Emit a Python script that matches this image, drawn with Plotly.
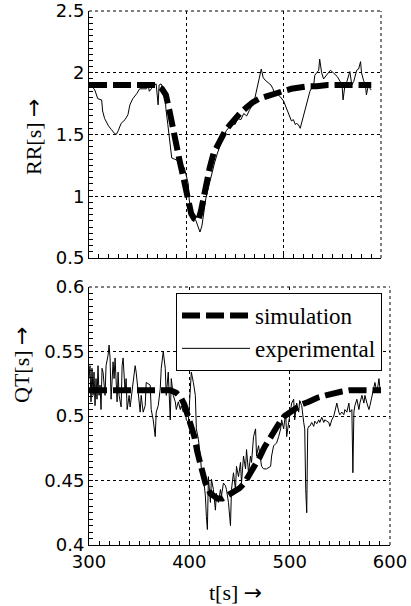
import plotly.graph_objects as go

# ---------------- data ----------------
t_rr_sim = [300, 310, 320, 330, 340, 350, 360, 369, 375, 379, 383, 386, 390, 393, 397, 400, 403, 405, 408, 412,
            415, 417, 420, 424, 428, 434, 440, 445, 450, 455, 462, 468, 475, 482, 490, 499, 508, 516, 525, 534,
            545, 560, 575, 590]
rr_sim = [1.90, 1.90, 1.90, 1.90, 1.90, 1.90, 1.90, 1.90, 1.87, 1.82, 1.68, 1.55, 1.40, 1.29, 1.15, 1.02, 0.92, 0.86, 0.82, 0.80,
          0.88, 0.97, 1.08, 1.23, 1.35, 1.45, 1.53, 1.58, 1.63, 1.67, 1.72, 1.76, 1.79, 1.81, 1.83, 1.85, 1.87, 1.88, 1.89, 1.89,
          1.90, 1.90, 1.90, 1.90]

t_rr_exp = [300, 302, 306, 309, 313, 314, 316, 320, 323, 326, 328, 330, 333, 337, 340, 342, 345, 349, 352, 355,
            359, 361, 362, 364, 367, 369, 371, 372, 374, 378, 379, 381, 383, 385, 388, 391, 395, 398, 402, 403,
            405, 407, 410, 412, 414, 416, 418, 420, 423, 426, 429, 432, 435, 438, 441, 444, 447, 450, 453, 456,
            459, 462, 465, 468, 470, 472, 474, 475, 477, 479, 481, 484, 487, 489, 491, 493, 496, 500, 503, 505,
            507, 508, 510, 512, 513, 515, 517, 519, 520, 522, 524, 527, 531, 532, 534, 536, 537, 539, 541, 544,
            548, 551, 555, 558, 560, 561, 563, 565, 567, 568, 570, 572, 575, 577, 579, 580, 582, 584, 585, 587,
            589, 590]
rr_exp = [1.91, 1.90, 1.86, 1.79, 1.78, 1.69, 1.63, 1.57, 1.54, 1.51, 1.50, 1.53, 1.59, 1.62, 1.66, 1.74, 1.79, 1.83, 1.87, 1.87,
          1.87, 1.89, 1.85, 1.87, 1.90, 1.91, 1.74, 1.90, 1.91, 1.85, 1.71, 1.58, 1.42, 1.31, 1.30, 1.29, 1.26, 1.23, 1.10, 0.97,
          0.86, 0.83, 0.80, 0.76, 0.71, 0.76, 0.88, 0.98, 1.08, 1.18, 1.27, 1.35, 1.42, 1.48, 1.53, 1.56, 1.60, 1.58, 1.63, 1.62,
          1.67, 1.65, 1.70, 1.74, 1.78, 1.85, 1.93, 1.98, 2.03, 1.96, 1.94, 1.92, 1.90, 1.87, 1.82, 1.83, 1.81, 1.77, 1.71, 1.67,
          1.63, 1.61, 1.62, 1.58, 1.59, 1.58, 1.55, 1.61, 1.66, 1.71, 1.77, 1.85, 1.91, 1.98, 2.00, 2.02, 2.11, 2.00, 1.95, 1.98,
          2.02, 2.00, 1.97, 1.93, 1.90, 1.78, 1.90, 1.93, 2.00, 2.01, 1.90, 1.93, 2.02, 2.03, 2.09, 2.00, 1.94, 1.90, 1.82, 1.90,
          1.87, 1.86]

t_qt_sim = [300, 320, 340, 360, 381, 387, 391, 395, 398, 402, 405, 408, 411, 416, 421, 428, 433, 438, 445, 450,
            455, 460, 465, 470, 475, 480, 485, 490, 495, 500, 505, 512, 519, 527, 536, 544, 552, 560, 569, 580, 591]
qt_sim = [0.520, 0.520, 0.520, 0.520, 0.520, 0.518, 0.515, 0.509, 0.502, 0.493, 0.484, 0.472, 0.461, 0.448, 0.440, 0.436, 0.436, 0.438, 0.441, 0.444,
          0.448, 0.454, 0.461, 0.468, 0.476, 0.483, 0.489, 0.495, 0.500, 0.503, 0.506, 0.509, 0.511, 0.514, 0.516, 0.518, 0.519, 0.520, 0.520, 0.520, 0.520]

t_qt_exp = [300, 301, 302, 303, 304, 305, 306, 307, 308, 309, 310, 311, 312, 313, 314, 316, 317, 319, 320, 321,
            322, 324, 325, 326, 328, 329, 330, 332, 333, 334, 336, 337, 338, 340, 341, 342, 344, 346, 347, 349,
            351, 352, 354, 356, 357, 359, 361, 362, 364, 366, 367, 369, 371, 372, 374, 376, 377, 379, 381, 382,
            384, 386, 387, 389, 391, 392, 394, 396, 397, 399, 401, 402, 404, 406, 407, 409, 411, 412, 414, 416,
            417, 418, 419, 421, 422, 424, 426, 427, 429, 431, 432, 434, 436, 437, 439, 441, 442, 444, 446, 447,
            449, 451, 452, 454, 456, 457, 459, 461, 462, 464, 466, 467, 469, 471, 472, 474, 477, 481, 482, 484,
            487, 489, 491, 492, 494, 496, 497, 499, 501, 502, 504, 505, 507, 509, 510, 512, 514, 515, 516, 517,
            518, 519, 520, 522, 524, 525, 527, 529, 530, 532, 534, 535, 537, 539, 540, 542, 544, 545, 547, 549,
            550, 552, 554, 555, 557, 559, 560, 562, 563, 564, 565, 567, 569, 570, 572, 574, 575, 577, 579, 580,
            582, 584, 585, 587, 589, 590]
qt_exp = [0.529, 0.539, 0.511, 0.537, 0.516, 0.534, 0.508, 0.529, 0.513, 0.539, 0.516, 0.524, 0.505, 0.537, 0.534, 0.516, 0.539, 0.547, 0.555, 0.545,
          0.513, 0.542, 0.529, 0.545, 0.511, 0.534, 0.516, 0.507, 0.539, 0.545, 0.518, 0.529, 0.505, 0.516, 0.507, 0.513, 0.526, 0.539, 0.534, 0.518,
          0.503, 0.516, 0.503, 0.508, 0.526, 0.525, 0.524, 0.505, 0.497, 0.484, 0.503, 0.508, 0.521, 0.537, 0.550, 0.537, 0.516, 0.534, 0.497, 0.529,
          0.516, 0.511, 0.505, 0.511, 0.505, 0.508, 0.503, 0.505, 0.497, 0.495, 0.516, 0.534, 0.526, 0.516, 0.490, 0.482, 0.469, 0.459, 0.453, 0.438,
          0.422, 0.412, 0.453, 0.433, 0.451, 0.443, 0.427, 0.440, 0.433, 0.443, 0.438, 0.448, 0.446, 0.443, 0.433, 0.415, 0.443, 0.456, 0.443, 0.461,
          0.453, 0.464, 0.448, 0.469, 0.459, 0.474, 0.456, 0.469, 0.464, 0.484, 0.490, 0.469, 0.477, 0.464, 0.461, 0.459, 0.459, 0.461, 0.469, 0.477,
          0.479, 0.484, 0.490, 0.497, 0.490, 0.503, 0.484, 0.495, 0.505, 0.510, 0.513, 0.497, 0.510, 0.503, 0.512, 0.508, 0.495, 0.490, 0.443, 0.425,
          0.490, 0.492, 0.492, 0.495, 0.492, 0.496, 0.494, 0.497, 0.495, 0.499, 0.495, 0.497, 0.496, 0.495, 0.492, 0.497, 0.500, 0.503, 0.510, 0.503,
          0.501, 0.503, 0.501, 0.505, 0.503, 0.510, 0.503, 0.505, 0.456, 0.503, 0.508, 0.513, 0.505, 0.510, 0.516, 0.510, 0.516, 0.510, 0.505, 0.508,
          0.516, 0.521, 0.526, 0.518, 0.529, 0.521]

x_ticks = [300, 400, 500, 600]
rr_ticks = [0.5, 1, 1.5, 2, 2.5]
rr_ticktext = ["0.5", "1", "1.5", "2", "2.5"]
qt_ticks = [0.4, 0.45, 0.5, 0.55, 0.6]
qt_ticktext = ["0.4", "0.45", "0.5", "0.55", "0.6"]

# ---------------- figure ----------------
W, H = 411, 606
SERIF = "Liberation Serif"
SANS = "DejaVu Sans"
ARROW = "<span style=\"font-family:'DejaVu Sans';font-size:22px\">→</span>"

sim_line = dict(color="black", width=6, dash="18px,6px")
exp_line = dict(color="black", width=1)

fig = go.Figure()
fig.add_trace(go.Scatter(x=t_rr_exp, y=rr_exp, mode="lines", line=exp_line, xaxis="x", yaxis="y", showlegend=False))
fig.add_trace(go.Scatter(x=t_rr_sim, y=rr_sim, mode="lines", line=sim_line, xaxis="x", yaxis="y", showlegend=False))
fig.add_trace(go.Scatter(x=t_qt_sim, y=qt_sim, mode="lines", line=sim_line, xaxis="x2", yaxis="y2", name="simulation"))
fig.add_trace(go.Scatter(x=t_qt_exp, y=qt_exp, mode="lines", line=exp_line, xaxis="x2", yaxis="y2", name="experimental"))

def px_x(p):
    return p / W

def px_y(p):
    return 1 - p / H

grid = dict(showgrid=True, gridcolor="black", gridwidth=1, griddash="3px,3px")
axis_common = dict(showline=True, linecolor="black", linewidth=1, ticks="inside", ticklen=4, automargin=False,
                   ticklabeloverflow="allow", tickcolor="black", zeroline=False,
                   tickfont=dict(family=SANS, size=18, color="black"), **grid)
minor_x = dict(dtick=10, ticks="inside", ticklen=4, tickcolor="black", showgrid=False)

fig.update_layout(
    template="none",
    width=W, height=H,
    margin=dict(l=0, r=0, t=0, b=0, autoexpand=False),
    paper_bgcolor="white", plot_bgcolor="white",
    xaxis=dict(domain=[px_x(89), px_x(381)], range=[300, 600], anchor="y", tickvals=x_ticks,
               showticklabels=False, minor=minor_x, **axis_common),
    yaxis=dict(domain=[px_y(258), px_y(11)], range=[0.5, 2.5], anchor="x", tickvals=rr_ticks, ticktext=rr_ticktext,
               minor=dict(dtick=0.05, ticks="inside", ticklen=4, tickcolor="black", showgrid=False),
               **axis_common),
    xaxis2=dict(domain=[px_x(89), px_x(390)], range=[300, 600], anchor="y2", tickvals=x_ticks,
                minor=minor_x, **axis_common),
    yaxis2=dict(domain=[px_y(545), px_y(287)], range=[0.4, 0.6], anchor="x2", tickvals=qt_ticks, ticktext=qt_ticktext,
                minor=dict(dtick=0.005, ticks="inside", ticklen=4, tickcolor="black", showgrid=False),
                **axis_common),
    legend=dict(x=px_x(176), y=px_y(293), xanchor="left", yanchor="top",
                bgcolor="white", bordercolor="black", borderwidth=1, itemwidth=68,
                font=dict(family=SERIF, size=23, color="black"), tracegroupgap=0),
    showlegend=True,
    shapes=[
        # dashed top and right frame edges of each panel
        dict(type="line", xref="x domain", yref="y domain", x0=0, x1=1, y0=1, y1=1,
             line=dict(color="black", width=1, dash="3px,3px")),
        dict(type="line", xref="x domain", yref="y domain", x0=1, x1=1, y0=0, y1=1,
             line=dict(color="black", width=1, dash="3px,3px")),
        dict(type="line", xref="x2 domain", yref="y2 domain", x0=0, x1=1, y0=1, y1=1,
             line=dict(color="black", width=1, dash="3px,3px")),
        dict(type="line", xref="x2 domain", yref="y2 domain", x0=1, x1=1, y0=0, y1=1,
             line=dict(color="black", width=1, dash="3px,3px")),
    ],
    annotations=[
        dict(text="RR[s] " + ARROW, x=px_x(33), y=px_y(137), xref="paper", yref="paper", showarrow=False,
             xanchor="center", yanchor="middle", textangle=-90, font=dict(family=SERIF, size=22, color="black")),
        dict(text="QT[s] " + ARROW, x=px_x(21), y=px_y(365), xref="paper", yref="paper", showarrow=False,
             xanchor="center", yanchor="middle", textangle=-90, font=dict(family=SERIF, size=22, color="black")),
        dict(text="t[s] " + ARROW, x=px_x(235), y=px_y(592), xref="paper", yref="paper", showarrow=False,
             xanchor="center", yanchor="middle", font=dict(family=SERIF, size=22, color="black")),
    ],
)

fig.write_html("out.html")
